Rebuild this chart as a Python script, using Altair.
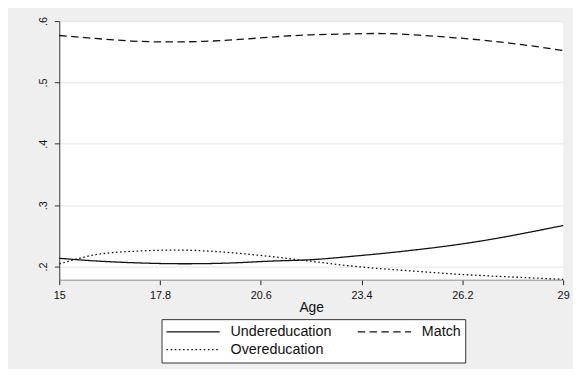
import altair as alt
import pandas as pd

ages = [15, 16, 17, 18, 19, 20, 21, 22, 23, 24, 25, 26, 27, 28, 29]
under = [0.2135, 0.2092, 0.2064, 0.2048, 0.2048, 0.2064, 0.2092, 0.2112, 0.2160,
         0.2215, 0.2279, 0.2353, 0.2444, 0.2552, 0.2669]
match = [0.5765, 0.5717, 0.5675, 0.5660, 0.5669, 0.5700, 0.5744, 0.5776, 0.5790,
         0.5797, 0.5770, 0.5728, 0.5675, 0.5605, 0.5520]
over = [0.2043, 0.2193, 0.2247, 0.2268, 0.2257, 0.2215, 0.2156, 0.2087, 0.2016,
        0.1963, 0.1920, 0.1878, 0.1846, 0.1819, 0.1791]
series = ["Undereducation", "Overeducation", "Match"]
x_ticks = [15, 17.8, 20.6, 23.4, 26.2, 29]
y_ticks = [0.2, 0.3, 0.4, 0.5, 0.6]

rows = []
for name, vals in zip(["Undereducation", "Match", "Overeducation"], [under, match, over]):
    for a, v in zip(ages, vals):
        rows.append({"age": a, "share": v, "series": name})
df = pd.DataFrame(rows)

FONT = "Liberation Sans"

chart = alt.Chart(df).mark_line(
    color="#111111", strokeWidth=1.3, interpolate="natural"
).encode(
    x=alt.X("age:Q",
            scale=alt.Scale(domain=[15, 29], nice=False, zero=False),
            axis=alt.Axis(values=x_ticks, format=".1~f", title="Age",
                          grid=False, domainColor="#8c8c8c", tickColor="#222222",
                          tickSize=5, labelFontSize=11, labelFont=FONT,
                          labelColor="#111111", labelBaseline="alphabetic",
                          labelPadding=14, labelFlush=False,
                          titleFont=FONT, titleFontSize=14, titleFontWeight="normal",
                          titleColor="#111111", titleY=32,
                          titleBaseline="alphabetic", titleAlign="center")),
    y=alt.Y("share:Q",
            scale=alt.Scale(domain=[0.1786, 0.6], nice=False, zero=False),
            axis=alt.Axis(values=y_ticks, title=None,
                          labelExpr="substring(format(datum.value, '.1f'), 1)",
                          grid=True, gridColor="#e4e4e4", gridWidth=1,
                          domainColor="#333333", tickColor="#333333", tickSize=5,
                          labelAngle=270, labelAlign="center",
                          labelBaseline="alphabetic", labelPadding=8,
                          labelFontSize=11, labelFont=FONT, labelColor="#111111")),
    strokeDash=alt.StrokeDash("series:N",
                              scale=alt.Scale(domain=series,
                                              range=[[1, 0], [1.6, 2.6], [7.5, 4.5]]),
                              legend=alt.Legend(title=None, orient="none",
                                                legendX=103.7, legendY=302.3,
                                                columns=2, columnPadding=25,
                                                rowPadding=0, clipHeight=18,
                                                symbolType="stroke", symbolSize=2916,
                                                symbolStrokeWidth=1.3,
                                                symbolStrokeColor="#111111",
                                                labelOffset=10, labelFontSize=14.5,
                                                labelFont=FONT, labelColor="#111111",
                                                fillColor="white", strokeColor="#333333",
                                                padding=4)),
).properties(
    width=511, height=262.3,
    autosize=alt.AutoSizeParams(type="none"),
    padding={"left": 52, "top": 10.7, "right": 10, "bottom": 88},
).configure(
    background="#efefef",
).configure_view(
    fill="white", stroke=None,
)

chart.save("out.html", embed_options={"renderer": "svg", "actions": False})
